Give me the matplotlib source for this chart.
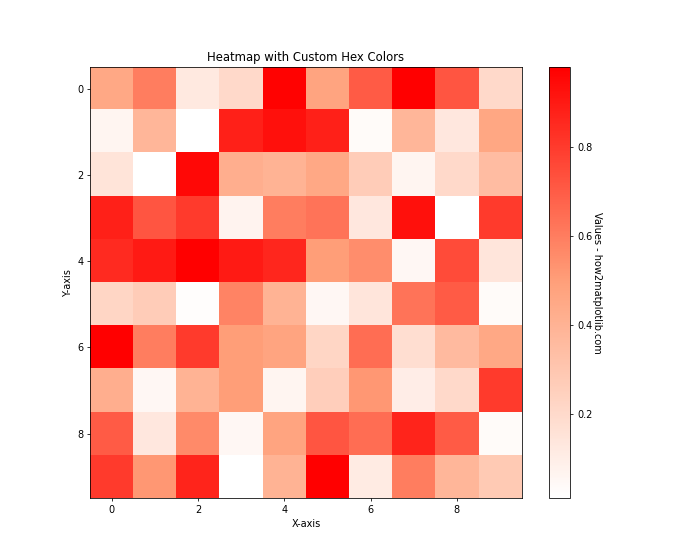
"""Heatmap with a custom white-salmon-red colormap."""

import numpy as np
import matplotlib
matplotlib.use('Agg')
import matplotlib.pyplot as plt
from matplotlib.colors import LinearSegmentedColormap

# cell values (rows top to bottom)
row0 = [0.45, 0.60, 0.12, 0.20, 0.97, 0.47, 0.70, 0.98, 0.72, 0.20]
row1 = [0.06, 0.38, 0.01, 0.88, 0.93, 0.88, 0.03, 0.38, 0.13, 0.46]
row2 = [0.15, 0.01, 0.95, 0.42, 0.40, 0.45, 0.27, 0.06, 0.20, 0.35]
row3 = [0.88, 0.72, 0.80, 0.07, 0.60, 0.63, 0.13, 0.93, 0.01, 0.80]
row4 = [0.85, 0.90, 0.98, 0.90, 0.86, 0.50, 0.55, 0.05, 0.75, 0.14]
row5 = [0.22, 0.27, 0.02, 0.58, 0.40, 0.05, 0.14, 0.63, 0.70, 0.03]
row6 = [0.98, 0.60, 0.80, 0.50, 0.47, 0.22, 0.65, 0.18, 0.36, 0.45]
row7 = [0.42, 0.05, 0.40, 0.50, 0.06, 0.26, 0.52, 0.10, 0.20, 0.80]
row8 = [0.70, 0.13, 0.56, 0.05, 0.47, 0.72, 0.65, 0.87, 0.70, 0.03]
row9 = [0.80, 0.52, 0.87, 0.01, 0.40, 0.98, 0.11, 0.60, 0.38, 0.28]

hex_colors = ['#FFFFFF', '#FFA07A', '#FF0000']

data = np.array([row0, row1, row2, row3, row4, row5, row6, row7, row8, row9])
cmap = LinearSegmentedColormap.from_list('custom', hex_colors)

fig, ax = plt.subplots(figsize=(10, 8), dpi=70)
im = ax.imshow(data, cmap=cmap)
cbar = plt.colorbar(im)
cbar.set_label('Values - how2matplotlib.com', rotation=270, labelpad=10)

ax.set_title('Heatmap with Custom Hex Colors')
ax.set_xlabel('X-axis')
ax.set_ylabel('Y-axis')

plt.savefig('out.png')
